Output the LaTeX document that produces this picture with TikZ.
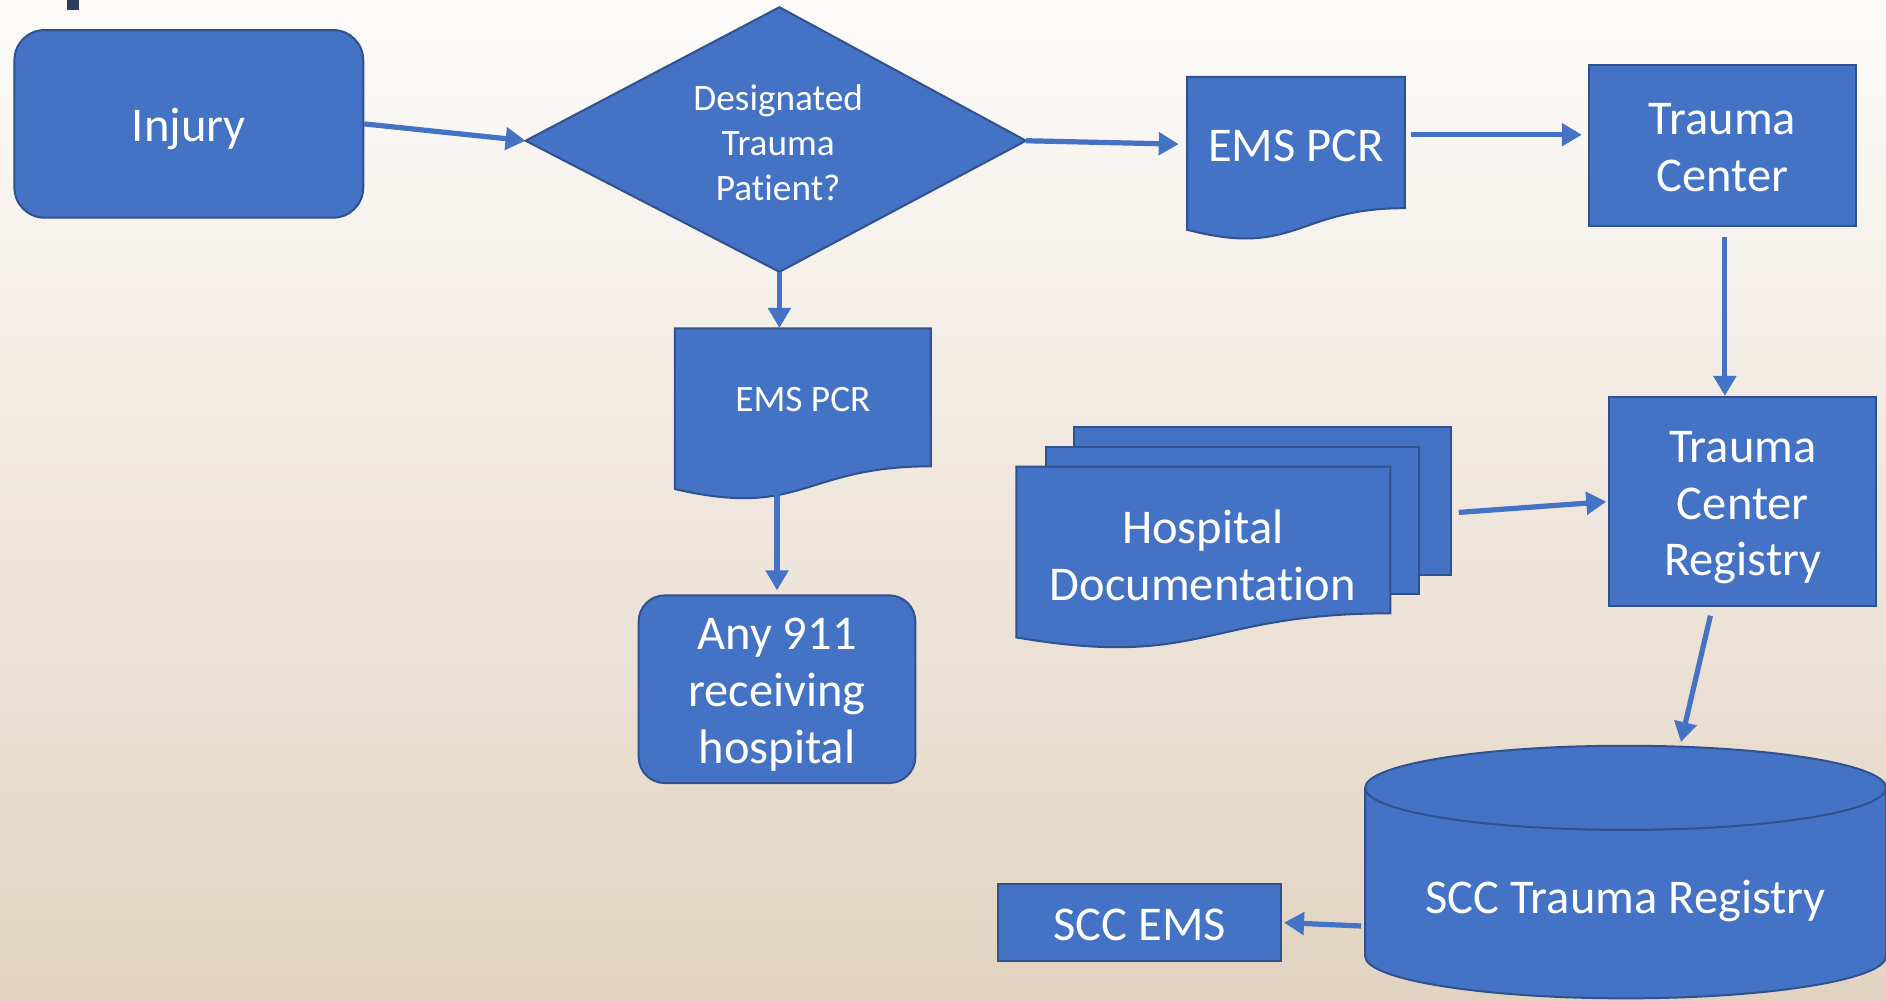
\documentclass[tikz,border=0pt]{standalone}
\usepackage{fontspec}
\setmainfont[Ligatures=NoCommon]{Carlito}
\usetikzlibrary{arrows.meta,calc}
\definecolor{fillblue}{HTML}{4472C4}
\definecolor{edgeblue}{HTML}{2F528F}
\definecolor{bgtop}{HTML}{FCFBFA}
\definecolor{bgmid}{HTML}{F2ECE5}
\definecolor{bgbot}{HTML}{E2D3C1}
\definecolor{titlemark}{HTML}{2E3F5C}
\newcommand\topstrut{\rule{0pt}{1em}}
\newcommand\botstrut{\rule[-0.28em]{0pt}{0.28em}}
\newcommand\docpath[4]{%
  \draw[shapestyle] (#1,#2) -- ({#1+#3},#2) -- ({#1+#3},{#2+0.802*#4})
    .. controls ({#1+0.5*#3},{#2+0.802*#4}) and ({#1+0.5*#3},{#2+1.1075*#4}) .. (#1,{#2+0.934*#4}) -- cycle;}
\begin{document}
\begin{tikzpicture}[x=0.6pt,y=-0.6pt,
  shapestyle/.style={fill=fillblue,draw=edgeblue,line width=1pt},
  txt/.style={text=white,align=center,inner sep=0pt},
  bigtext/.style={txt,font=\fontsize{24.2pt}{28.4pt}\selectfont},
  smalltext/.style={txt,font=\fontsize{18.6pt}{22.5pt}\selectfont},
  boxnode/.style={shapestyle,bigtext,rectangle},
  arr/.style={draw=fillblue,line width=2.6pt,-{Triangle[length=10pt,width=11pt]}}]
\useasboundingbox (0,0) rectangle (1568,832);
\shade[top color=bgtop,middle color=bgmid,bottom color=bgbot] (0,0) rectangle (1568,832);
\fill[titlemark] (56,0) rectangle (66,8);

% Injury
\node[boxnode,rounded corners=15pt,minimum width={290*0.6pt},minimum height={156*0.6pt}] (inj) at (157,103) {\topstrut Injury\botstrut};

% Diamond
\draw[shapestyle] (437,117) -- (648,6) -- (853,117) -- (648,226) -- cycle;
\coordinate (diaW) at (437,117);
\coordinate (diaE) at (853,117);
\coordinate (diaS) at (648,226);
\node[smalltext] (dia) at (647,118) {\topstrut Designated\\Trauma\\Patient?\botstrut};

% EMS PCR (top)
\docpath{987}{64}{181}{136}
\node[bigtext,minimum width={181*0.6pt},minimum height={112*0.6pt}] (pcr1) at (1077.5,120) {\topstrut EMS PCR\botstrut};

% Trauma Center
\node[boxnode,minimum width={222*0.6pt},minimum height={134*0.6pt}] (tc) at (1432,121) {\topstrut Trauma\\Center\botstrut};

% EMS PCR (lower)
\docpath{561}{273}{213}{143}
\node[smalltext,minimum width={213*0.6pt},minimum height={116*0.6pt}] (pcr2) at (667.5,331) {\topstrut EMS PCR\botstrut};

% Any 911 receiving hospital
\node[boxnode,rounded corners=13pt,minimum width={230*0.6pt},minimum height={156*0.6pt}] (any) at (646,573) {\topstrut Any 911\\receiving\\hospital\botstrut};

% Hospital Documentation (multi-document)
\node[shapestyle,rectangle,inner sep=0pt,minimum width={313*0.6pt},minimum height={123*0.6pt}] (hdb) at (1049.5,416.5) {};
\node[shapestyle,rectangle,inner sep=0pt,minimum width={310*0.6pt},minimum height={122*0.6pt}] (hdm) at (1025,433) {};
\docpath{845}{388}{311}{152}
\node[bigtext] (hd) at (1000,461) {\topstrut Hospital\\Documentation\botstrut};

% Trauma Center Registry
\node[boxnode,minimum width={222*0.6pt},minimum height={174*0.6pt}] (tcr) at (1449,417) {\topstrut Trauma\\Center\\Registry\botstrut};

% SCC Trauma Registry (cylinder)
\fill[fillblue] (1135,655) -- (1135,795) arc[start angle=180,end angle=0,x radius=216.5,y radius=35] -- (1568,655) -- cycle;
\draw[edgeblue,line width=1pt] (1135,655) -- (1135,795) arc[start angle=180,end angle=0,x radius=216.5,y radius=35] -- (1568,655);
\draw[shapestyle] (1351.5,655) ellipse[x radius=216.5,y radius=35];
\coordinate (cylN) at (1351.5,620);
\coordinate (cylW) at (1135,770);
\node[bigtext] (cyl) at (1351.5,745) {\topstrut SCC Trauma Registry\botstrut};

% SCC EMS
\node[boxnode,minimum width={235*0.6pt},minimum height={64*0.6pt}] (scc) at (947.5,767) {\topstrut SCC EMS\botstrut};

% Connectors
\draw[arr] (inj.east) -- (diaW);
\draw[arr,shorten >=4pt] (diaE) -- (pcr1.west);
\draw[arr,shorten <=3pt,shorten >=3pt] ($(pcr1.east)+(0,-8)$) -- ($(tc.west)+(0,-9)$);
\draw[arr,shorten <=5pt] ($(tc.south)+(2,0)$) -- ($(tc.south |- tcr.north)+(2,0)$);
\draw[arr] (diaS) -- (diaS |- pcr2.north);
\draw[arr,shorten >=2pt] ($(any.north |- pcr2.south)+(0,21)$) -- (any.north);
\draw[arr,shorten >=1pt] ($(hdb.east)+(6,9.5)$) -- (tcr.west);
\draw[arr] ($(tcr.south)+(-27,7)$) -- ($(cylN)+(46,-3)$);
\draw[arr,shorten <=2pt,shorten >=1pt] (cylW) -- (scc.east);
\end{tikzpicture}
\end{document}
